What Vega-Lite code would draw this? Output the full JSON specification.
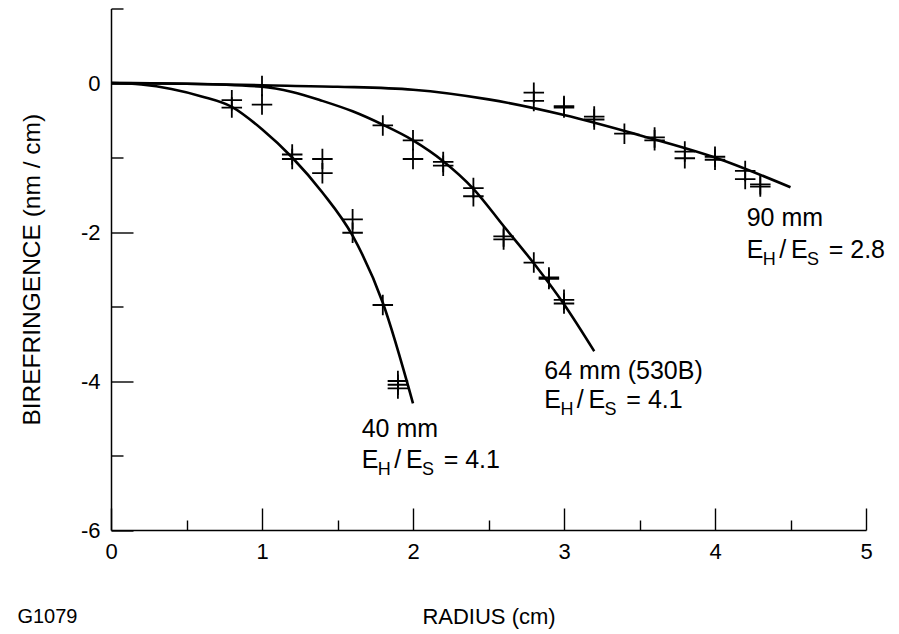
{
  "$schema": "https://vega.github.io/schema/vega-lite/v6.json",
  "autosize": {"type": "none"},
  "padding": {"left": 111, "top": 8.5, "right": 33, "bottom": 104},
  "width": 755,
  "height": 521.5,
  "background": "white",
  "config": {"font": "Liberation Sans", "view": {"stroke": null}},
  "encoding": {
    "x": {
      "field": "r", "type": "quantitative",
      "scale": {"domain": [0, 5], "nice": false, "zero": false},
      "axis": {
        "values": [0, 0.5, 1, 1.5, 2, 2.5, 3, 3.5, 4, 4.5, 5],
        "labelExpr": "datum.value % 1 === 0 ? toString(datum.value) : ''",
        "tickSize": {"condition": {"test": "datum.value % 1 === 0", "value": -22}, "value": -10},
        "labelPadding": 33,
        "grid": false,
        "domainColor": "black", "domainWidth": 1.5,
        "tickColor": "black", "tickWidth": 1.4,
        "labelFont": "Liberation Sans", "labelFontSize": 22, "labelColor": "black",
        "labelFlush": false, "labelOverlap": false,
        "title": "RADIUS (cm)", "titleFont": "Liberation Sans", "titleFontSize": 22,
        "titleFontWeight": "normal", "titleColor": "black", "titlePadding": 32
      }
    },
    "y": {
      "field": "b", "type": "quantitative",
      "scale": {"domain": [-6, 1], "nice": false, "zero": false},
      "axis": {
        "values": [-6, -5, -4, -3, -2, -1, 0, 1],
        "labelExpr": "(datum.value % 2 === 0 && datum.value <= 0) ? toString(datum.value) : ''",
        "tickSize": {"condition": {"test": "datum.value % 2 === 0", "value": -22}, "value": -12},
        "labelPadding": 33,
        "grid": false,
        "domainColor": "black", "domainWidth": 1.5,
        "tickColor": "black", "tickWidth": 1.4,
        "labelFont": "Liberation Sans", "labelFontSize": 22, "labelColor": "black",
        "labelFlush": false, "labelOverlap": false,
        "title": "BIREFRINGENCE (nm / cm)", "titleFont": "Liberation Sans", "titleFontSize": 24.5,
        "titleFontWeight": "normal", "titleColor": "black", "titlePadding": 36
      }
    }
  },
  "layer": [
    {
      "data": {"values": [
        {"s": "40 mm", "r": 0, "b": 0}, {"s": "40 mm", "r": 0.2, "b": -0.02}, {"s": "40 mm", "r": 0.4, "b": -0.08},
        {"s": "40 mm", "r": 0.6, "b": -0.18}, {"s": "40 mm", "r": 0.8, "b": -0.32}, {"s": "40 mm", "r": 1.0, "b": -0.62},
        {"s": "40 mm", "r": 1.2, "b": -1.0}, {"s": "40 mm", "r": 1.4, "b": -1.47}, {"s": "40 mm", "r": 1.6, "b": -2.05},
        {"s": "40 mm", "r": 1.8, "b": -2.95}, {"s": "40 mm", "r": 2.0, "b": -4.3},
        {"s": "64 mm", "r": 0, "b": 0}, {"s": "64 mm", "r": 0.5, "b": -0.01}, {"s": "64 mm", "r": 1.0, "b": -0.05},
        {"s": "64 mm", "r": 1.2, "b": -0.12}, {"s": "64 mm", "r": 1.4, "b": -0.24}, {"s": "64 mm", "r": 1.6, "b": -0.38},
        {"s": "64 mm", "r": 1.8, "b": -0.56}, {"s": "64 mm", "r": 2.0, "b": -0.77}, {"s": "64 mm", "r": 2.2, "b": -1.05},
        {"s": "64 mm", "r": 2.4, "b": -1.42}, {"s": "64 mm", "r": 2.6, "b": -1.92}, {"s": "64 mm", "r": 2.8, "b": -2.42},
        {"s": "64 mm", "r": 3.0, "b": -2.97}, {"s": "64 mm", "r": 3.2, "b": -3.6},
        {"s": "90 mm", "r": 0, "b": 0}, {"s": "90 mm", "r": 0.5, "b": -0.01}, {"s": "90 mm", "r": 1.0, "b": -0.03},
        {"s": "90 mm", "r": 1.5, "b": -0.05}, {"s": "90 mm", "r": 2.0, "b": -0.09}, {"s": "90 mm", "r": 2.5, "b": -0.22},
        {"s": "90 mm", "r": 3.0, "b": -0.43}, {"s": "90 mm", "r": 3.5, "b": -0.7}, {"s": "90 mm", "r": 4.0, "b": -1.0},
        {"s": "90 mm", "r": 4.5, "b": -1.4}
      ]},
      "mark": {"type": "line", "color": "black", "strokeWidth": 2.6, "interpolate": "monotone"},
      "encoding": {"detail": {"field": "s"}}
    },
    {
      "data": {"values": [
        {"s": "40 mm", "r": 0.8, "b": -0.23}, {"s": "40 mm", "r": 0.8, "b": -0.33}, {"s": "40 mm", "r": 1.0, "b": -0.29},
        {"s": "40 mm", "r": 1.2, "b": -0.96}, {"s": "40 mm", "r": 1.2, "b": -1.02}, {"s": "40 mm", "r": 1.4, "b": -1.02},
        {"s": "40 mm", "r": 1.4, "b": -1.21}, {"s": "40 mm", "r": 1.6, "b": -1.83}, {"s": "40 mm", "r": 1.6, "b": -2.01},
        {"s": "40 mm", "r": 1.8, "b": -2.98}, {"s": "40 mm", "r": 1.9, "b": -4.0}, {"s": "40 mm", "r": 1.9, "b": -4.05},
        {"s": "40 mm", "r": 1.9, "b": -4.1},
        {"s": "64 mm", "r": 1.0, "b": -0.04}, {"s": "64 mm", "r": 1.8, "b": -0.57}, {"s": "64 mm", "r": 2.0, "b": -0.77},
        {"s": "64 mm", "r": 2.0, "b": -1.02}, {"s": "64 mm", "r": 2.2, "b": -1.06}, {"s": "64 mm", "r": 2.2, "b": -1.11},
        {"s": "64 mm", "r": 2.4, "b": -1.41}, {"s": "64 mm", "r": 2.4, "b": -1.52}, {"s": "64 mm", "r": 2.6, "b": -2.06},
        {"s": "64 mm", "r": 2.6, "b": -2.1}, {"s": "64 mm", "r": 2.8, "b": -2.41}, {"s": "64 mm", "r": 2.9, "b": -2.61},
        {"s": "64 mm", "r": 2.9, "b": -2.63}, {"s": "64 mm", "r": 3.0, "b": -2.91}, {"s": "64 mm", "r": 3.0, "b": -2.96},
        {"s": "90 mm", "r": 2.8, "b": -0.13}, {"s": "90 mm", "r": 2.8, "b": -0.24}, {"s": "90 mm", "r": 3.0, "b": -0.31},
        {"s": "90 mm", "r": 3.0, "b": -0.33}, {"s": "90 mm", "r": 3.2, "b": -0.45}, {"s": "90 mm", "r": 3.2, "b": -0.49},
        {"s": "90 mm", "r": 3.4, "b": -0.68}, {"s": "90 mm", "r": 3.6, "b": -0.73}, {"s": "90 mm", "r": 3.6, "b": -0.77},
        {"s": "90 mm", "r": 3.8, "b": -0.92}, {"s": "90 mm", "r": 3.8, "b": -1.01}, {"s": "90 mm", "r": 4.0, "b": -0.99},
        {"s": "90 mm", "r": 4.0, "b": -1.03}, {"s": "90 mm", "r": 4.2, "b": -1.18}, {"s": "90 mm", "r": 4.2, "b": -1.29},
        {"s": "90 mm", "r": 4.3, "b": -1.36}, {"s": "90 mm", "r": 4.3, "b": -1.39}
      ]},
      "mark": {"type": "point", "shape": "M-1,0L1,0M0,-1L0,1", "size": 420, "filled": false, "stroke": "black", "strokeWidth": 1.8, "opacity": 1}
    },
    {
      "data": {"values": [
        {"r": 4.21, "b": -1.81, "t": "90 mm"},
        {"r": 4.21, "b": -2.24, "t": "E"}, {"r": 4.425, "b": -2.24, "t": "/"}, {"r": 4.503, "b": -2.24, "t": "E"}, {"r": 4.753, "b": -2.24, "t": "= 2.8"},
        {"r": 2.87, "b": -3.86, "t": "64 mm (530B)"},
        {"r": 2.87, "b": -4.26, "t": "E"}, {"r": 3.085, "b": -4.26, "t": "/"}, {"r": 3.163, "b": -4.26, "t": "E"}, {"r": 3.413, "b": -4.26, "t": "= 4.1"},
        {"r": 1.66, "b": -4.64, "t": "40 mm"},
        {"r": 1.66, "b": -5.06, "t": "E"}, {"r": 1.875, "b": -5.06, "t": "/"}, {"r": 1.953, "b": -5.06, "t": "E"}, {"r": 2.203, "b": -5.06, "t": "= 4.1"}
      ]},
      "mark": {"type": "text", "align": "left", "baseline": "middle", "fontSize": 25, "color": "black"},
      "encoding": {"text": {"field": "t"}}
    },
    {
      "data": {"values": [
        {"r": 4.316, "b": -2.24, "t": "H"}, {"r": 4.609, "b": -2.24, "t": "S"},
        {"r": 2.976, "b": -4.26, "t": "H"}, {"r": 3.269, "b": -4.26, "t": "S"},
        {"r": 1.766, "b": -5.06, "t": "H"}, {"r": 2.059, "b": -5.06, "t": "S"}
      ]},
      "mark": {"type": "text", "align": "left", "baseline": "middle", "fontSize": 18, "dy": 10, "color": "black"},
      "encoding": {"text": {"field": "t"}}
    },
    {
      "data": {"values": [{"r": -0.62, "b": -7.17, "t": "G1079"}]},
      "mark": {"type": "text", "align": "left", "baseline": "middle", "fontSize": 20, "color": "black"},
      "encoding": {"text": {"field": "t"}}
    }
  ]
}
